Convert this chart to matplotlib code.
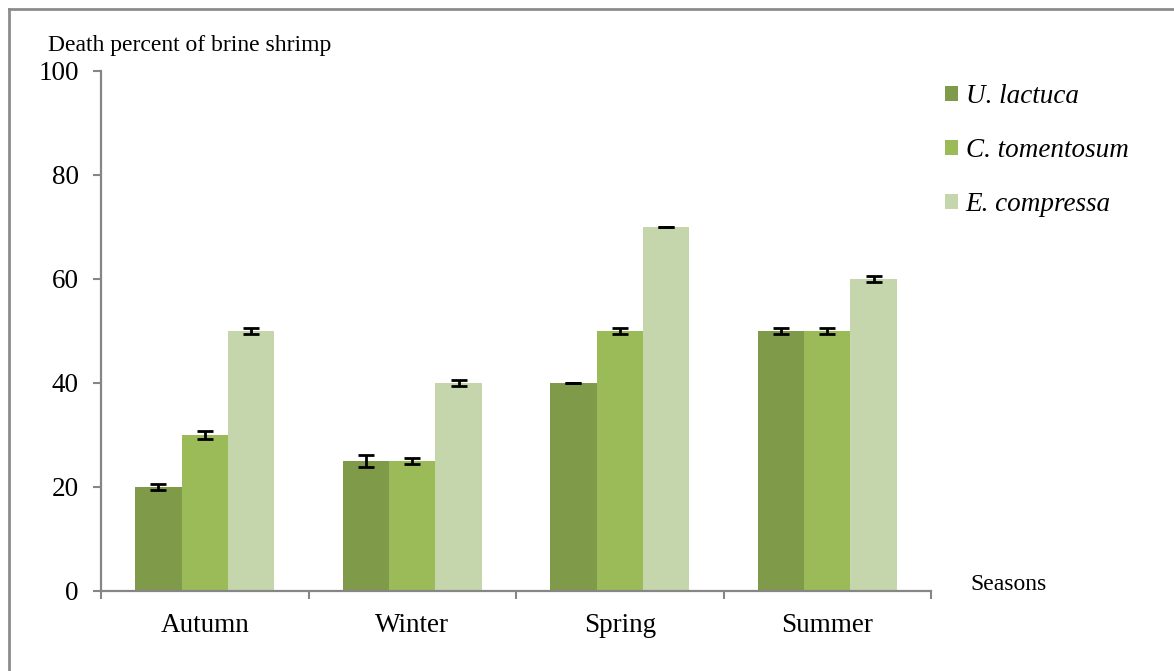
import matplotlib
matplotlib.use("Agg")
import matplotlib.pyplot as plt
from matplotlib.patches import Patch
from matplotlib.lines import Line2D
import numpy as np

seasons = ["Autumn", "Winter", "Spring", "Summer"]
species = ["U. lactuca", "C. tomentosum", "E. compressa"]
u_lactuca = [20, 25, 40, 50]
c_tomentosum = [30, 25, 50, 50]
e_compressa = [50, 40, 70, 60]
u_err = [0.6, 1.1, 0.0, 0.6]
c_err = [0.7, 0.6, 0.6, 0.6]
e_err = [0.6, 0.6, 0.0, 0.6]
colors = ["#7F9A48", "#9BBB59", "#C6D6AC"]

plt.rcParams["font.family"] = ["Liberation Serif", "DejaVu Serif"]

W, H = 1174, 671
fig = plt.figure(figsize=(W / 100, H / 100), dpi=100)
ax = fig.add_axes([101 / W, 1 - 591 / H, (931 - 101) / W, (591 - 71) / H])

x = np.arange(len(seasons))
bw = 0.224
series = [u_lactuca, c_tomentosum, e_compressa]
errs = [u_err, c_err, e_err]
for i, (vals, err) in enumerate(zip(series, errs)):
    pos = x + (i - 1) * bw
    ax.bar(pos, vals, width=bw, color=colors[i], edgecolor="none", zorder=2)
    ax.errorbar(pos, vals, yerr=err, fmt="none", ecolor="black",
                elinewidth=2, capsize=5.5, capthick=2, zorder=3)

ax.set_xlim(-0.5, len(seasons) - 0.5)
ax.set_ylim(0, 100)
ax.set_yticks([0, 20, 40, 60, 80, 100])
ax.tick_params(axis="y", labelsize=19.5, length=6, width=1.5, color="#868686",
               direction="out", pad=10)
ax.set_xticks(x)
ax.set_xticklabels(seasons)
ax.tick_params(axis="x", which="major", length=0, labelsize=19.5, pad=16)
ax.set_xticks(np.arange(-0.5, len(seasons)), minor=True)
ax.tick_params(axis="x", which="minor", length=6, width=1.5, color="#868686",
               direction="out")

for s in ["top", "right"]:
    ax.spines[s].set_visible(False)
for s in ["left", "bottom"]:
    ax.spines[s].set_color("#868686")
    ax.spines[s].set_linewidth(1.6)

fig.text(48 / W, 1 - 45 / H, "Death percent of brine shrimp", fontsize=17,
         ha="left", va="center")
fig.text(970 / W, 1 - 585 / H, "Seasons", fontsize=17, ha="left", va="center")

handles = [Patch(facecolor=c, edgecolor="none") for c in colors]
leg = fig.legend(handles, species, loc="upper left",
                 bbox_to_anchor=(921 / W, 1 - 60 / H), frameon=False,
                 handlelength=0.45, handleheight=0.45, handletextpad=0.3,
                 labelspacing=1.07, prop={"size": 19.5, "style": "italic"})

# outer frame lines
fig.add_artist(Line2D([9 / W, 9 / W], [0, 1 - 9 / H], transform=fig.transFigure,
                      color="#8C8C8C", lw=2))
fig.add_artist(Line2D([9 / W, 1], [1 - 9 / H, 1 - 9 / H], transform=fig.transFigure,
                      color="#8C8C8C", lw=2))

fig.savefig("out.png", dpi=100)
